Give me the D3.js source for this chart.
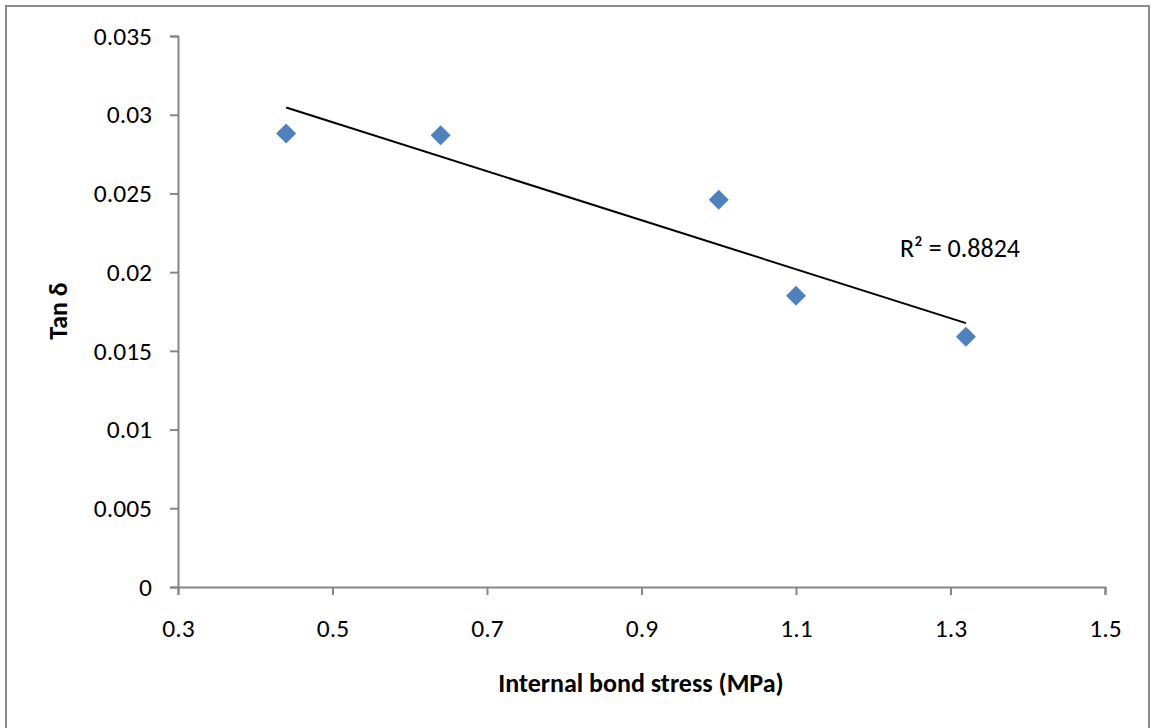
<!DOCTYPE html>
<html>
<head>
<meta charset="utf-8">
<script src="https://cdn.jsdelivr.net/npm/d3@7"></script>
<style>
  html, body { margin: 0; padding: 0; background: #fff; }
  svg { display: block; }
  text { font-family: Carlito, Lato, "Open Sans", sans-serif; fill: #000; }
</style>
</head>
<body>
<svg id="chart" width="1151" height="728"></svg>
<script>
// Internal bond stress (MPa) vs. loss tangent
const stress = [0.44, 0.64, 1.0, 1.1, 1.32];
const tanDelta = [0.0288, 0.0287, 0.0246, 0.0185, 0.0159];
const xTicks = [0.3, 0.5, 0.7, 0.9, 1.1, 1.3, 1.5];
const yTicks = [0, 0.005, 0.01, 0.015, 0.02, 0.025, 0.03, 0.035];
const xTitle = "Internal bond stress (MPa)";
const yTitle = "Tan δ";

const svg = d3.select("#chart");
const plotLeft = 178, plotRight = 1105, plotTop = 36, plotBottom = 587;
const tickFont = 25.5, labelFont = 26;

// outer chart frame
svg.append("rect")
  .attr("x", 6).attr("y", 6)
  .attr("width", 1143).attr("height", 740)
  .attr("fill", "#fff")
  .attr("stroke", "#8c8c8c").attr("stroke-width", 2);

const x = d3.scaleLinear().domain([0.3, 1.5]).range([plotLeft, plotRight]);
const y = d3.scaleLinear().domain([0, 0.035]).range([plotBottom, plotTop]);

const axisColor = "#868686";

const xAxis = svg.append("g")
  .attr("transform", `translate(0,${plotBottom})`)
  .call(d3.axisBottom(x).tickValues(xTicks).tickSize(8).tickPadding(24)
    .tickFormat(d3.format("~g")));
const yAxis = svg.append("g")
  .attr("transform", `translate(${plotLeft},0)`)
  .call(d3.axisLeft(y).tickValues(yTicks).tickSize(8).tickPadding(18)
    .tickFormat(d => d === 0 ? "0" : d3.format("~g")(d)));

[xAxis, yAxis].forEach(g => {
  g.select(".domain").attr("stroke", axisColor).attr("stroke-width", 2);
  g.selectAll(".tick line").attr("stroke", axisColor).attr("stroke-width", 2);
  g.selectAll(".tick text").attr("font-size", tickFont).attr("fill", "#000")
    .style("font-family", "Carlito, Lato, 'Open Sans', sans-serif");
});
xAxis.selectAll(".tick text").attr("dy", "0.71em");

// linear least-squares trend line
const n = stress.length;
const mx = d3.mean(stress), my = d3.mean(tanDelta);
let sxy = 0, sxx = 0, syy = 0;
for (let i = 0; i < n; i++) {
  sxy += (stress[i] - mx) * (tanDelta[i] - my);
  sxx += (stress[i] - mx) ** 2;
  syy += (tanDelta[i] - my) ** 2;
}
const slope = sxy / sxx;
const intercept = my - slope * mx;
const r2 = (sxy * sxy) / (sxx * syy);
const x0 = d3.min(stress), x1 = d3.max(stress);

svg.append("line")
  .attr("x1", x(x0)).attr("y1", y(intercept + slope * x0))
  .attr("x2", x(x1)).attr("y2", y(intercept + slope * x1))
  .attr("stroke", "#000").attr("stroke-width", 2);

// diamond markers
const diamond = d3.symbol().type(d3.symbolSquare).size(200);
svg.append("g").selectAll("path")
  .data(stress.map((s, i) => [s, tanDelta[i]]))
  .join("path")
  .attr("d", diamond)
  .attr("transform", d => `translate(${x(d[0])},${y(d[1])}) rotate(45)`)
  .attr("fill", "#4F81BD");

// R² annotation
svg.append("text")
  .attr("x", 900).attr("y", 257)
  .attr("font-size", labelFont)
  .text(`R² = ${r2.toFixed(4)}`);

// axis titles
svg.append("text")
  .attr("x", 641).attr("y", 692)
  .attr("text-anchor", "middle")
  .attr("font-size", labelFont).attr("font-weight", "bold")
  .text(xTitle);

svg.append("text")
  .attr("transform", `translate(67,311) rotate(-90)`)
  .attr("text-anchor", "middle")
  .attr("font-size", labelFont).attr("font-weight", "bold")
  .text(yTitle);
</script>
</body>
</html>
